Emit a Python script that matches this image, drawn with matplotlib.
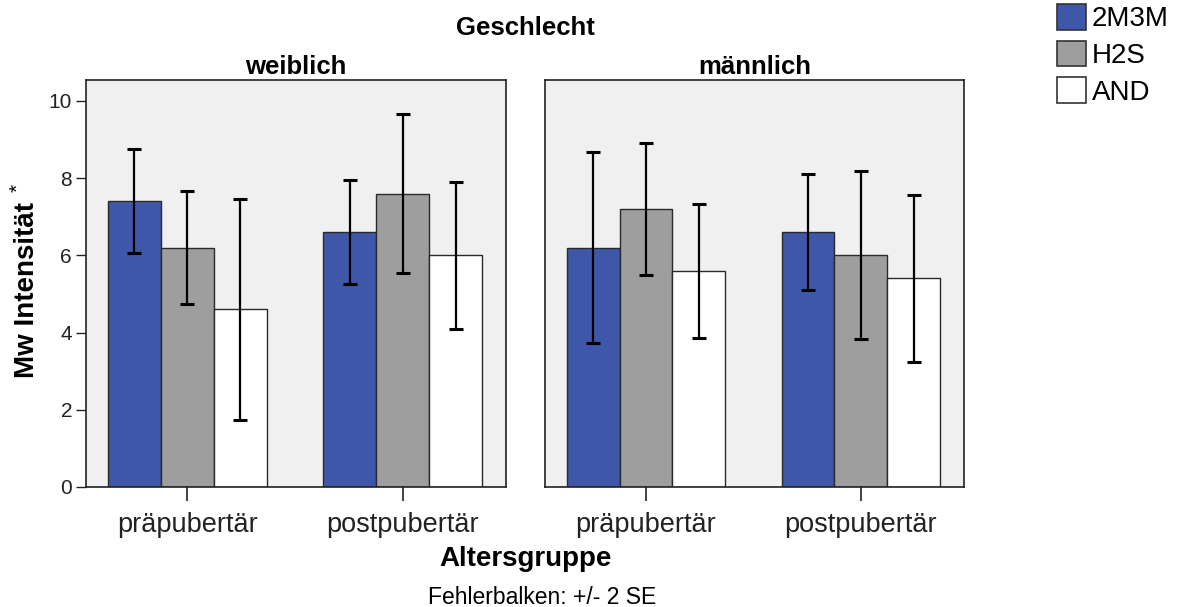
import matplotlib
matplotlib.use("Agg")
import matplotlib.pyplot as plt
import numpy as np
from matplotlib.patches import Patch

plt.rcParams["font.family"] = ["Liberation Sans", "DejaVu Sans"]

# data
panels = ["weiblich", "männlich"]
age_groups = ["präpubertär", "postpubertär"]
series = ["2M3M", "H2S", "AND"]
colors = ["#3f57a8", "#9e9e9e", "#ffffff"]

# means per panel: rows = series, cols = age group
means_weiblich = [[7.4, 6.6], [6.2, 7.6], [4.6, 6.0]]
means_maennlich = [[6.2, 6.6], [7.2, 6.0], [5.6, 5.4]]
# error bar half widths (+/- 2 SE)
err_weiblich = [[1.35, 1.35], [1.46, 2.06], [2.86, 1.90]]
err_maennlich = [[2.47, 1.50], [1.72, 2.18], [1.74, 2.15]]

means = [means_weiblich, means_maennlich]
errs = [err_weiblich, err_maennlich]

fig = plt.figure(figsize=(11.8, 6.07), dpi=100)
W, H = 1180, 607

panel_px = [(86, 506), (545, 964)]
top_px, bottom_px = 80, 487
width = 0.246
x = np.arange(len(age_groups))

for p, (x0, x1) in enumerate(panel_px):
    ax = fig.add_axes([x0 / W, 1 - bottom_px / H, (x1 - x0) / W, (bottom_px - top_px) / H])
    ax.set_facecolor("#f0f0f0")
    for i, name in enumerate(series):
        ax.bar(x + (i - 1) * width, means[p][i], width, color=colors[i],
               edgecolor="#2a2a2a", linewidth=1.0, zorder=2)
        ax.errorbar(x + (i - 1) * width, means[p][i], yerr=errs[p][i], fmt="none",
                    ecolor="black", elinewidth=1.6, capsize=4.8, capthick=2.2, zorder=3)
    ax.set_xlim(-0.47, 1.48)
    ax.set_ylim(0, 10.54)
    ax.set_xticks(x, age_groups)
    ax.tick_params(axis="x", length=10, width=1.2, labelsize=19.5, pad=8, colors="#222222")
    ax.set_yticks([0, 2, 4, 6, 8, 10])
    if p == 0:
        ax.tick_params(axis="y", length=7, width=1, labelsize=15, pad=3, colors="#222222")
    else:
        ax.tick_params(axis="y", left=False, labelleft=False)
    for s in ax.spines.values():
        s.set_linewidth(1.2)
        s.set_color("#222222")
    ax.set_title(panels[p], fontsize=18.5, fontweight="bold", pad=4)

fig.text(525 / W, 1 - 28 / H, "Geschlecht", ha="center", va="center",
         fontsize=18.5, fontweight="bold")
fig.text(525 / W, 1 - 559 / H, "Altersgruppe", ha="center", va="center",
         fontsize=20, fontweight="bold")
fig.text(542 / W, 1 - 597 / H, "Fehlerbalken: +/- 2 SE", ha="center", va="center",
         fontsize=16.5)
fig.text(27 / W, 1 - 290 / H, "Mw Intensität", rotation=90, ha="center", va="center",
         fontsize=20, fontweight="bold")
fig.text(18 / W, 1 - 188 / H, "*", rotation=90, ha="center", va="center", fontsize=15)

handles = [Patch(facecolor=c, edgecolor="#333333", linewidth=1.2) for c in colors]
fig.legend(handles, series, loc="upper left", bbox_to_anchor=(1057 / W, 1 - 4 / H),
           frameon=False, fontsize=20, handlelength=1.05, handleheight=1.05,
           handletextpad=0.2, labelspacing=0.3, borderpad=0, borderaxespad=0)

fig.savefig("out.png", dpi=100)
